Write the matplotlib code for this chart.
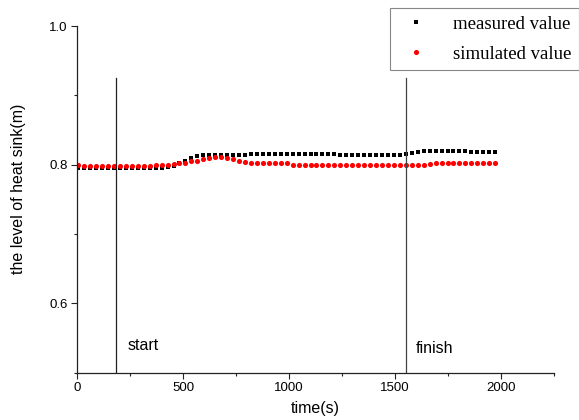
import matplotlib
matplotlib.use("Agg")

import matplotlib.pyplot as plt
import numpy as np
from matplotlib.ticker import MultipleLocator, FormatStrFormatter

# sampling times of the logger (s)
time_s = np.arange(71) * 28.1 + 5

measured = [
    0.795, 0.795, 0.795, 0.795, 0.795, 0.795, 0.795, 0.795, 0.795, 0.795,
    0.795, 0.795, 0.795, 0.795, 0.7955, 0.796, 0.798, 0.802, 0.806, 0.810,
    0.813, 0.814, 0.814, 0.814, 0.8138, 0.8136, 0.8136, 0.8135, 0.8138, 0.8155,
    0.8155, 0.8155, 0.8155, 0.8155, 0.8155, 0.8155, 0.8155, 0.8155, 0.8155, 0.8155,
    0.8155, 0.8155, 0.8155, 0.815, 0.8138, 0.8135, 0.8135, 0.8135, 0.8135, 0.8135,
    0.8135, 0.8135, 0.8135, 0.8135, 0.814, 0.816, 0.817, 0.819, 0.8195, 0.8195,
    0.8195, 0.8195, 0.8195, 0.8195, 0.8195, 0.8195, 0.819, 0.819, 0.819, 0.819,
    0.819,
]

simulated = [
    0.799, 0.7985, 0.7985, 0.7985, 0.7985, 0.7985, 0.7985, 0.7985, 0.7985, 0.7985,
    0.7985, 0.7985, 0.7988, 0.799, 0.7995, 0.800, 0.801, 0.802, 0.803, 0.805,
    0.806, 0.808, 0.809, 0.8105, 0.8105, 0.8095, 0.808, 0.806, 0.8045, 0.8025,
    0.8025, 0.8025, 0.8025, 0.8025, 0.8025, 0.8025, 0.799, 0.799, 0.799, 0.799,
    0.799, 0.799, 0.799, 0.799, 0.799, 0.799, 0.799, 0.799, 0.799, 0.799,
    0.799, 0.799, 0.799, 0.799, 0.799, 0.800, 0.800, 0.800, 0.800, 0.801,
    0.802, 0.802, 0.802, 0.802, 0.802, 0.802, 0.802, 0.802, 0.802, 0.802,
    0.802,
]

start_t = 185
finish_t = 1550
marker_top = 0.925

plt.rcParams['font.family'] = ['Liberation Sans', 'DejaVu Sans']

fig = plt.figure(figsize=(5.79, 4.2), dpi=100)
ax = fig.add_axes([0.1333, 0.1126, 0.8237, 0.8254])

ax.plot(time_s, measured, 's', color='black', ms=3.3, mew=0,
        label='measured value')
ax.plot(time_s, simulated, 'o', color='red', ms=3.7, mew=0,
        label='simulated value')

# start / finish markers
ax.plot([start_t, start_t], [0.5, marker_top], color='#222222', lw=0.9)
ax.plot([finish_t, finish_t], [0.5, marker_top], color='#444444', lw=0.9)
ax.text(start_t + 52, 0.5387, 'start', fontsize=11.5, va='center', ha='left')
ax.text(finish_t + 45, 0.535, 'finish', fontsize=11.5, va='center', ha='left')

ax.set_xlim(0, 2250)
ax.set_ylim(0.5, 1.0)
ax.xaxis.set_major_locator(MultipleLocator(500))
ax.xaxis.set_minor_locator(MultipleLocator(250))
ax.yaxis.set_major_locator(MultipleLocator(0.2))
ax.yaxis.set_minor_locator(MultipleLocator(0.1))
ax.yaxis.set_major_formatter(FormatStrFormatter('%.1f'))

for side in ('top', 'right'):
    ax.spines[side].set_visible(False)
for side in ('left', 'bottom'):
    ax.spines[side].set_linewidth(0.9)
    ax.spines[side].set_color('#222222')

ax.tick_params(which='major', direction='out', length=4, width=0.8,
               labelsize=9.5, color='#222222', pad=3)
ax.tick_params(which='minor', direction='out', length=2.5, width=0.8,
               color='#222222')

ax.set_xlabel('time(s)', fontsize=11.5, labelpad=5)
ax.set_ylabel('the level of heat sink(m)', fontsize=11.5)
ax.yaxis.set_label_coords(-0.108, 0.53)

leg = fig.legend(loc='upper left', bbox_to_anchor=(389.6 / 579, 1 - 8 / 420),
                 bbox_transform=fig.transFigure, numpoints=1, fancybox=False,
                 framealpha=1, edgecolor='#888888', borderpad=0.4,
                 borderaxespad=0, labelspacing=0.7, handletextpad=1.0,
                 prop={'family': 'Liberation Serif', 'size': 13.5})
leg.get_frame().set_linewidth(0.8)

fig.savefig('out.png', dpi=100, facecolor='white')
